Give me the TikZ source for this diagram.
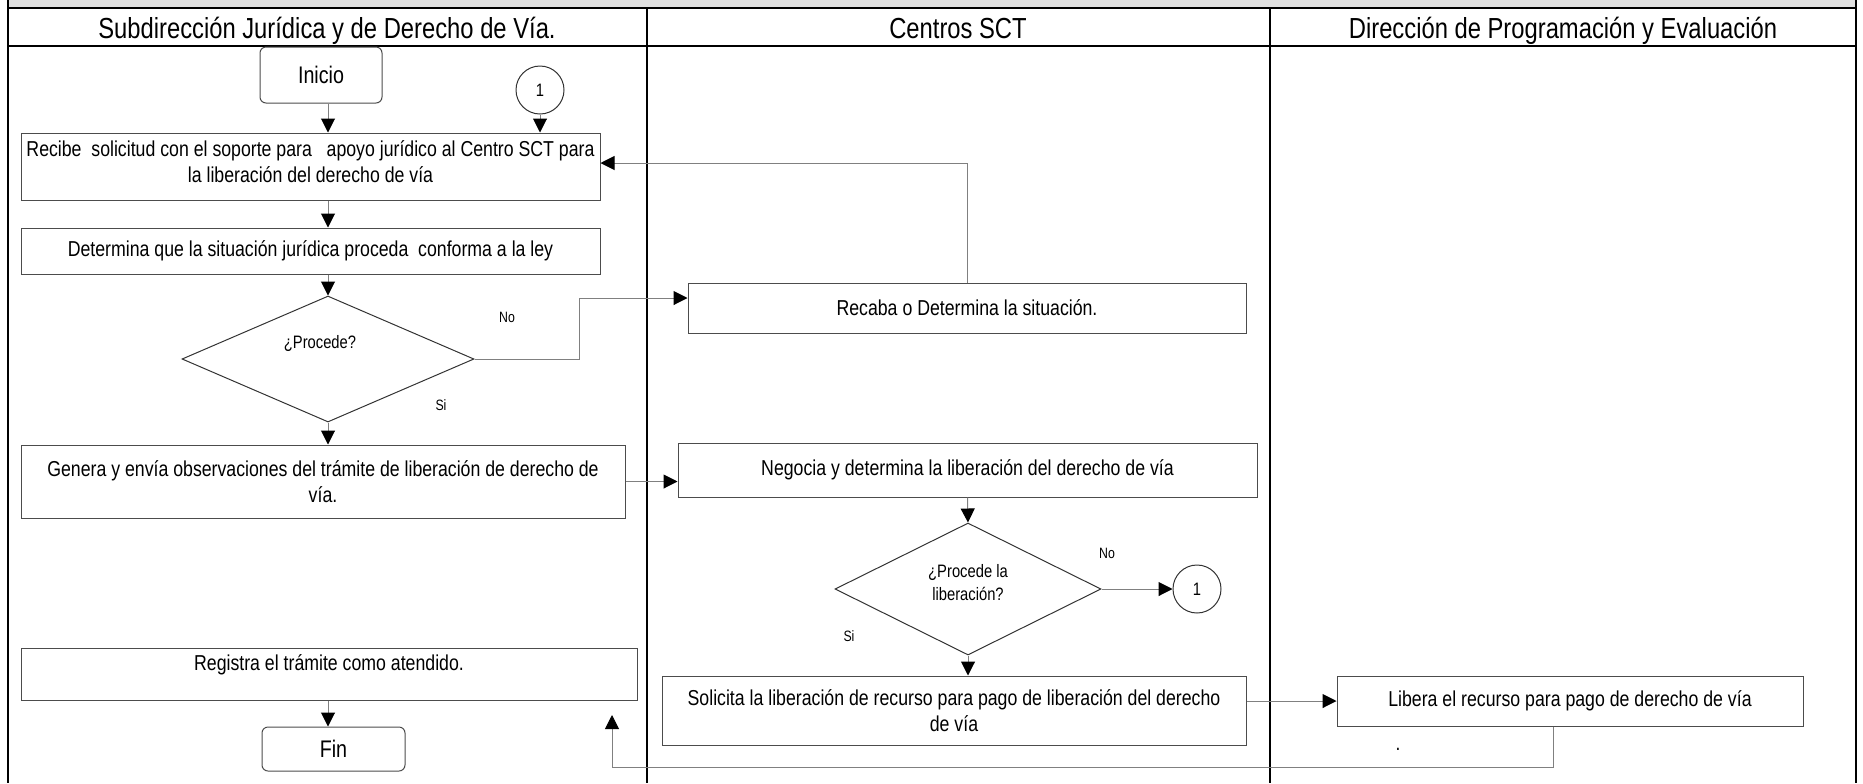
\documentclass[tikz,border=0pt]{standalone}
\usepackage{fontspec}
\setmainfont{Liberation Sans}[FakeStretch=0.82]
\usetikzlibrary{arrows.meta,shapes.geometric,calc}
\begin{document}
\begin{tikzpicture}[x=0.5pt,y=-0.5pt,
  frame/.style={line width=1.4pt,black},
  box/.style={draw=black!70,line width=0.5pt,rectangle,inner sep=0pt,align=center,font=\fontsize{10.8}{12.8}\selectfont},
  btext/.style={inner sep=0pt,align=center,font=\fontsize{10.8}{13}\selectfont},
  term/.style={box,rounded corners=3pt,font=\fontsize{12}{14}\selectfont},
  conncirc/.style={draw=black!80,line width=0.5pt,circle,inner sep=0pt,font=\fontsize{9}{11}\selectfont},
  decision/.style={draw=black!80,line width=0.5pt,diamond,inner sep=0pt},
  conn/.style={draw=black!50,line width=0.5pt,-{Triangle[length=7pt,width=7pt,color=black]}},
  lbl/.style={inner sep=0pt,font=\fontsize{7.5}{9}\selectfont},
  dtext/.style={inner sep=0pt,align=center,font=\fontsize{9}{11.5}\selectfont},
  head/.style={inner sep=0pt,anchor=base,font=\fontsize{14.5}{17}\selectfont}]
\useasboundingbox (0,0) rectangle (1863,783);
% frame
\fill[black!12] (8,0) rectangle (1856,8);
\draw[frame] (8,0) -- (8,783);
\draw[frame] (1856,0) -- (1856,783);
\draw[frame] (8,8) -- (1856,8);
\draw[frame] (8,46) -- (1856,46);
\draw[frame] (647,8) -- (647,783);
\draw[frame] (1270,8) -- (1270,783);
% headers
\node[head] (h1) at (327,38) {Subdirección Jurídica y de Derecho de Vía.};
\node[head] (h2) at (958,38) {Centros SCT};
\node[head] (h3) at (1563,38) {Dirección de Programación y Evaluación};
% nodes
\coordinate (colA) at (328,0);
\node[term,minimum width=61pt,minimum height=28pt] (inicio) at (321,75) {Inicio};
\node[conncirc,minimum size=24pt] (c1top) at (540,90) {1};
\node[box,minimum width=289.5pt,minimum height=33.5pt] (recibe) at (310.5,166.5) {};
\node[btext] (trecibe) at (310.5,162)
  {Recibe\ \ solicitud con el soporte para\ \ \ apoyo jurídico al Centro SCT para\\la liberación del derecho de vía};
\node[box,minimum width=289.5pt,minimum height=23pt] (determina) at (310.5,251)
  {Determina que la situación jurídica proceda\ \ conforma a la ley};
\node[decision,minimum width=146pt,minimum height=63pt] (dec1) at (328,359) {};
\node[dtext] (t1) at (320,343) {¿Procede?};
\node[lbl] (no1) at (507,317) {No};
\node[lbl] (si1) at (441,405) {Si};
\node[box,minimum width=279pt,minimum height=25pt] (recaba) at (967,308) {Recaba o Determina la situación.};
\node[box,minimum width=302pt,minimum height=36.5pt] (genera) at (323,481.5)
  {Genera y envía observaciones del trámite de liberación de derecho de\\vía.};
\node[box,minimum width=289.5pt,minimum height=27pt] (negocia) at (967.5,470)
  {Negocia y determina la liberación del derecho de vía};
\node[decision,minimum width=133pt,minimum height=66pt] (dec2) at (968,589) {};
\node[dtext] (t2) at (968,583) {¿Procede la\\liberación?};
\node[lbl] (no2) at (1107,553) {No};
\node[lbl] (si2) at (849,636) {Si};
\node[conncirc,minimum size=24pt] (c1bot) at (1197,589) {1};
\node[box,minimum width=292pt,minimum height=34.5pt] (solicita) at (954,710.5)
  {Solicita la liberación de recurso para pago de liberación del derecho\\de vía};
\node[box,minimum width=233pt,minimum height=25pt] (libera) at (1570,701)
  {Libera el recurso para pago de derecho de vía};
\node[inner sep=0pt,anchor=base,font=\fontsize{10.5}{12}\selectfont] (dot) at (1398,750) {.};
\node[box,minimum width=308pt,minimum height=26pt] (registra) at (329,674) {};
\node[btext] (tr) at (329,665) {Registra el trámite como atendido.};
\node[term,minimum width=71.5pt,minimum height=22pt] (fin) at (333.5,749) {Fin};
% connectors
\coordinate (n1) at (579,298);
\coordinate (r1) at (967,163);
\coordinate (b1) at (1553,767);
\coordinate (b2) at (612,767);
\coordinate (b3) at (612,715);
\draw[conn] (inicio.south -| colA) -- (recibe.north -| colA);
\draw[conn] (c1top.south) -- (c1top.south |- recibe.north);
\draw[conn] (recibe.south -| colA) -- (determina.north -| colA);
\draw[conn] (determina.south -| colA) -- (dec1.north);
\draw[conn] (dec1.east) -| (n1) -- (recaba.west |- n1);
\draw[conn] (recaba.north) -- (r1) -- (recibe.east |- r1);
\draw[conn] (dec1.south) -- (dec1.south |- genera.north);
\draw[conn] (genera.east) -- (negocia.west |- genera.east);
\draw[conn] (negocia.south) -- (dec2.north);
\draw[conn] (dec2.east) -- (c1bot.west);
\draw[conn] (dec2.south) -- (dec2.south |- solicita.north);
\draw[conn] (solicita.east |- libera.west) -- (libera.west);
\draw[conn] (libera.south -| b1) -- (b1) -- (b2) -- (b3);
\draw[conn] (registra.south -| colA) -- (fin.north -| colA);
\end{tikzpicture}
\end{document}
